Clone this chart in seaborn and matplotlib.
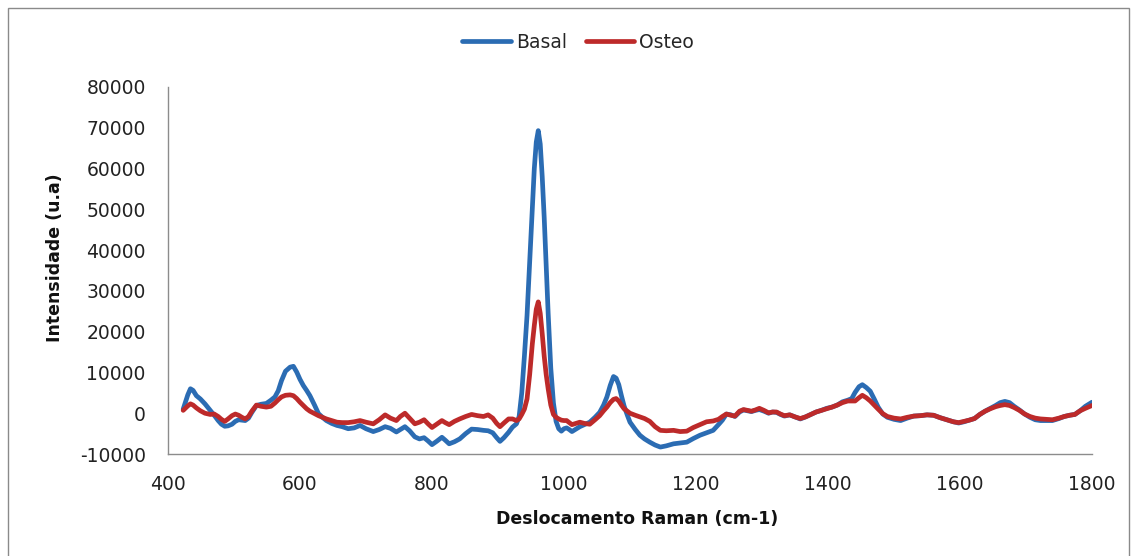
import matplotlib
matplotlib.use("Agg")
import matplotlib.pyplot as plt
import matplotlib.patches as mpatches
import numpy as np
import pandas as pd
import seaborn as sns

# Raman shift (cm-1)
raman_shift = [
    423, 430, 434, 438, 443, 449, 456, 464, 470, 476, 481, 486, 491, 497, 502, 507, 512, 517, 522, 527,
    534, 541, 549, 556, 562, 567, 572, 578, 585, 590, 595, 600, 605, 610, 615, 622, 628, 634, 640, 648,
    656, 664, 673, 682, 691, 700, 711, 720, 729, 737, 746, 752, 759, 766, 774, 781, 788, 794, 800, 807,
    815, 820, 826, 834, 842, 851, 860, 869, 878, 885, 892, 898, 903, 909, 916, 922, 928, 932, 936, 940,
    944, 948, 952, 955, 958, 961, 964, 967, 970, 973, 976, 980, 984, 988, 992, 996, 1000, 1004, 1008, 1012,
    1018, 1024, 1031, 1039, 1047, 1054, 1060, 1065, 1070, 1075, 1079, 1083, 1087, 1091, 1096, 1100, 1108, 1115, 1122, 1130,
    1138, 1146, 1155, 1166, 1176, 1186, 1196, 1206, 1216, 1226, 1234, 1240, 1246, 1253, 1259, 1266, 1272, 1278, 1284, 1290,
    1296, 1303, 1310, 1316, 1322, 1328, 1334, 1342, 1350, 1358, 1366, 1374, 1382, 1390, 1398, 1406, 1414, 1422, 1430, 1436,
    1441, 1447, 1452, 1458, 1464, 1470, 1476, 1483, 1490, 1500, 1510, 1520, 1530, 1540, 1550, 1560, 1570, 1580, 1590, 1598,
    1606, 1614, 1622, 1630, 1638, 1646, 1654, 1661, 1668, 1675, 1682, 1690, 1698, 1706, 1714, 1722, 1730, 1740, 1750, 1758,
    1766, 1774, 1782, 1790, 1800,
]

basal = [
    1000, 4500, 6000, 5600, 4300, 3500, 2300, 700, -500, -1800, -2700, -3200, -3100, -2700, -2000, -1600, -1700, -1800, -1200, 200,
    1900, 2200, 2400, 3200, 4000, 5500, 8000, 10300, 11300, 11500, 10100, 8300, 6800, 5600, 4300, 2000, -100, -1000, -1800, -2500,
    -3000, -3300, -3800, -3600, -3000, -3800, -4500, -4000, -3300, -3700, -4600, -4000, -3300, -4300, -5800, -6300, -6000, -6800, -7700, -6900,
    -5900, -6600, -7500, -7000, -6300, -5000, -3900, -4000, -4200, -4300, -4800, -6000, -6900, -6000, -4700, -3400, -2600, -800, 5000, 14000,
    24000, 37000, 50000, 60000, 66500, 69300, 66000, 58000, 48000, 36000, 24500, 11000, 2500, -2000, -3800, -4400, -3800, -3600, -4000, -4500,
    -3900, -3300, -2800, -2200, -1000, 200, 2000, 4000, 6800, 9000, 8600, 7000, 4300, 1800, -500, -2200, -4000, -5400, -6300, -7100,
    -7800, -8300, -8000, -7500, -7300, -7100, -6200, -5400, -4800, -4200, -2800, -1700, -200, -400, -800, 300, 800, 600, 400, 700,
    900, 500, 0, 300, 200, -300, -700, -400, -900, -1400, -900, -300, 300, 700, 1200, 1500, 2000, 2800, 3200, 3600,
    5100, 6500, 7000, 6300, 5400, 3500, 1500, -200, -1000, -1500, -1800, -1200, -700, -600, -400, -500, -1100, -1600, -2100, -2400,
    -2100, -1700, -1300, -300, 500, 1200, 1900, 2600, 2900, 2600, 1700, 800, -200, -1000, -1600, -1800, -1800, -1800, -1300, -800,
    -500, -300, 600, 1700, 2700,
]

osteo = [
    700, 1800, 2300, 2000, 1300, 600, 0, -300, -200, -800, -1500, -2000, -1400, -600, -200, -500, -1000, -1400, -800, 500,
    2000, 1700, 1500, 1700, 2500, 3300, 4000, 4400, 4500, 4300, 3600, 2700, 1900, 1100, 500, -100, -600, -1000, -1400, -1800,
    -2200, -2300, -2300, -2100, -1800, -2200, -2600, -1600, -400, -1200, -1800, -800, 0, -1200, -2600, -2200, -1600, -2600, -3500, -2700,
    -1800, -2300, -2800, -2000, -1400, -800, -300, -600, -800, -400, -1200, -2500, -3300, -2400, -1400, -1400, -1800, -1400, -300, 1000,
    3500, 9500, 17000, 21500, 25500, 27300, 24500, 19500, 14000, 9500, 6000, 2000, -300, -1000, -1400, -1700, -1800, -1800, -2300, -2800,
    -2500, -2200, -2500, -2700, -1600, -600, 600, 1500, 2600, 3400, 3600, 3000, 2000, 1100, 500, 0, -500, -900, -1300, -2000,
    -3300, -4200, -4300, -4200, -4500, -4400, -3500, -2800, -2100, -1900, -1500, -800, -200, -500, -700, 500, 900, 700, 500, 800,
    1200, 700, 100, 300, 300, -200, -600, -400, -900, -1300, -900, -300, 300, 700, 1100, 1500, 2000, 2600, 3000, 3000,
    3000, 3800, 4400, 3800, 3000, 2000, 1000, -100, -800, -1200, -1400, -1000, -700, -600, -400, -500, -1100, -1600, -2100, -2300,
    -2000, -1700, -1300, -300, 500, 1100, 1600, 1900, 2100, 1900, 1400, 700, -200, -800, -1200, -1400, -1500, -1600, -1200, -800,
    -500, -300, 600, 1200, 1900,
]

series_names = ["Basal", "Osteo"]
series_colors = ["#2B6CB3", "#BD2A2A"]
x_ticks = [400, 600, 800, 1000, 1200, 1400, 1600, 1800]
y_ticks = [-10000, 0, 10000, 20000, 30000, 40000, 50000, 60000, 70000, 80000]

df = pd.concat([
    pd.DataFrame({"x": raman_shift, "y": basal, "serie": series_names[0]}),
    pd.DataFrame({"x": raman_shift, "y": osteo, "serie": series_names[1]}),
], ignore_index=True)

sns.set_style("white")
plt.rcParams["font.family"] = ["DejaVu Sans"]

W, H = 1136, 556
fig = plt.figure(figsize=(W / 100, H / 100), dpi=100)
ax = fig.add_axes([168 / W, 1 - 454 / H, (1092 - 168) / W, (454 - 87) / H])

sns.lineplot(data=df, x="x", y="y", hue="serie", palette=series_colors,
             linewidth=3.4, ax=ax, legend=False, sort=False, estimator=None)

ax.set_xlim(400, 1800)
ax.set_ylim(-10000, 80000)
ax.set_xticks(x_ticks)
ax.set_yticks(y_ticks)
ax.set_xticklabels([str(v) for v in x_ticks])
ax.set_yticklabels([str(v) for v in y_ticks])

for s in ["top", "right"]:
    ax.spines[s].set_visible(False)
for s in ["left", "bottom"]:
    ax.spines[s].set_color("#8c8c8c")
    ax.spines[s].set_linewidth(1.0)

ax.tick_params(axis="both", which="major", direction="out", length=6, width=1.0,
               color="#8c8c8c", labelsize=13.5, labelcolor="#222222")
ax.tick_params(axis="y", pad=10)
ax.tick_params(axis="x", pad=9)
ax.grid(False)

ax.set_xlabel("Deslocamento Raman (cm-1)", fontsize=12.5, fontweight="bold", color="#111111")
ax.set_ylabel("Intensidade (u.a)", fontsize=12.5, fontweight="bold", color="#111111")
ax.xaxis.label.set_va("center")
ax.yaxis.label.set_va("center")
ax.xaxis.set_label_coords(0.5074, (454 - 519) / 367)
ax.yaxis.set_label_coords((55 - 168) / 924, (454 - 258) / 367)

handles = [plt.Line2D([], [], color=c, linewidth=3.4) for c in series_colors]
fig.legend(handles, series_names, loc="center", bbox_to_anchor=(578 / W, 1 - 42 / H),
           ncol=2, frameon=False, fontsize=13.5, handlelength=2.6, handletextpad=0.25,
           columnspacing=1.0)

border = mpatches.Rectangle((8 / W, -0.05), (1129 - 8) / W, 1.05 - 8 / H + 0.0,
                            transform=fig.transFigure, fill=False,
                            edgecolor="#8a8a8a", linewidth=1.0)
fig.patches.append(border)

fig.savefig("out.png", dpi=100, facecolor="white")
